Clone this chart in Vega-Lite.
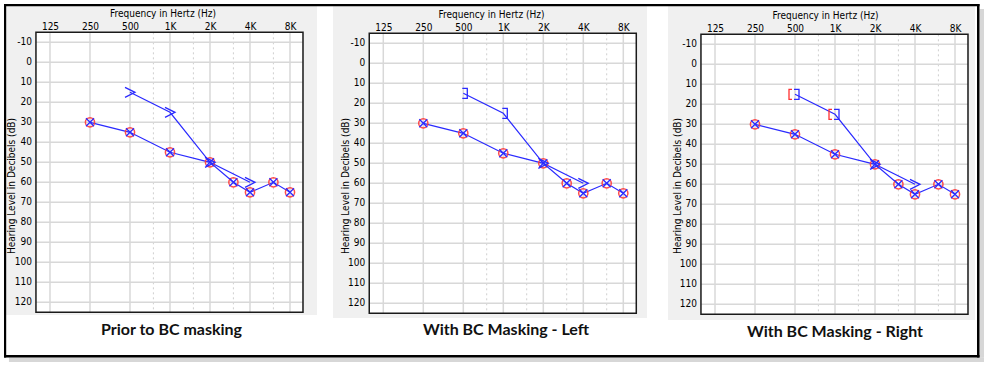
{
  "$schema": "https://vega.github.io/schema/vega-lite/v6.json",
  "padding": 0,
  "background": "white",
  "spacing": 0,
  "data": {"values": [{}]},
  "config": {"view": {"stroke": null}, "concat": {"spacing": 0},
    "axis": {"domain": false, "ticks": false, "tickSize": 0, "grid": false, "labelFont": "Liberation Sans Narrow, DejaVu Sans Condensed, Liberation Sans", "labelFontSize": 10, "labelColor": "#000", "labelFlush": false, "labelOverlap": false, "labelBound": false, "titleFont": "Liberation Sans Narrow, DejaVu Sans Condensed, Liberation Sans", "titleFontSize": 10, "titleFontWeight": "normal", "titleColor": "#000"}},
  "datasets": {
    "ac": [{"f":250,"db":30},{"f":500,"db":35},{"f":1000,"db":45},{"f":2000,"db":50},{"f":3000,"db":60},{"f":4000,"db":65},{"f":6000,"db":60},{"f":8000,"db":65}],
    "bcline": [{"f":500,"db":15},{"f":1000,"db":25},{"f":2000,"db":50},{"f":4000,"db":60}],
    "bc1": [{"f":500,"db":15,"sym":"unmasked"},{"f":1000,"db":25,"sym":"unmasked"},{"f":2000,"db":50,"sym":"unmasked"},{"f":4000,"db":60,"sym":"unmasked"}],
    "bc2": [{"f":500,"db":15,"sym":"masked L"},{"f":1000,"db":25,"sym":"masked L"},{"f":2000,"db":50,"sym":"unmasked"},{"f":4000,"db":60,"sym":"unmasked"}],
    "bc3": [{"f":500,"db":15,"sym":"masked R"},{"f":500,"db":15,"sym":"masked L"},{"f":1000,"db":25,"sym":"masked R"},{"f":1000,"db":25,"sym":"masked L"},{"f":2000,"db":50,"sym":"unmasked"},{"f":4000,"db":60,"sym":"unmasked"}],
    "gridf": [{"f":125,"kind":"solid"},{"f":250,"kind":"solid"},{"f":500,"kind":"solid"},{"f":750,"kind":"dotted"},{"f":1000,"kind":"solid"},{"f":1500,"kind":"dotted"},{"f":2000,"kind":"solid"},{"f":3000,"kind":"dotted"},{"f":4000,"kind":"solid"},{"f":6000,"kind":"dotted"},{"f":8000,"kind":"solid"}],
    "griddb": [{"db":-10},{"db":0},{"db":10},{"db":20},{"db":30},{"db":40},{"db":50},{"db":60},{"db":70},{"db":80},{"db":90},{"db":100},{"db":110},{"db":120}]
  },
  "hconcat": [
    {
      "width": 325, "height": 371,
      "layer": [
        {"mark": {"type": "rect", "fill": "#f0f0f0"},
         "encoding": {"x": {"datum": 58.3, "type": "quantitative"}, "x2": {"datum": 12773}, "y": {"datum": -29, "type": "quantitative"}, "y2": {"datum": 126.35}}},
        {"mark": {"type": "rect", "fill": "white"},
         "encoding": {"x": {"datum": 98, "type": "quantitative"}, "x2": {"datum": 10020}, "y": {"datum": -15, "type": "quantitative"}, "y2": {"datum": 125}}},
        {"data": {"name": "gridf"}, "transform": [{"filter": "datum.kind == 'solid'"}],
         "mark": {"type": "rule", "color": "#d8d8d8", "strokeWidth": 1.5},
         "encoding": {"x": {"field": "f", "type": "quantitative"}, "y": {"datum": -15, "type": "quantitative"}, "y2": {"datum": 125}}},
        {"data": {"name": "gridf"}, "transform": [{"filter": "datum.kind == 'dotted'"}],
         "mark": {"type": "rule", "color": "#cfcfcf", "strokeWidth": 1, "strokeDash": [2, 3]},
         "encoding": {"x": {"field": "f", "type": "quantitative"}, "y": {"datum": -15, "type": "quantitative"}, "y2": {"datum": 125}}},
        {"data": {"name": "griddb"},
         "mark": {"type": "rule", "color": "#d8d8d8", "strokeWidth": 1.5},
         "encoding": {"y": {"field": "db", "type": "quantitative"}, "x": {"datum": 98, "type": "quantitative"}, "x2": {"datum": 10020}}},
        {"data": {"name": "griddb"},
         "mark": {"type": "text", "align": "right", "baseline": "middle", "dx": -4, "font": "Liberation Sans Narrow, DejaVu Sans Condensed, Liberation Sans", "fontSize": 10, "color": "#000"},
         "encoding": {"y": {"field": "db", "type": "quantitative"}, "x": {"datum": 98, "type": "quantitative"}, "text": {"field": "db", "type": "nominal"}}},
        {"data": {"name": "ac"}, "mark": {"type": "line", "color": "#2a2aff", "strokeWidth": 1.2},
         "encoding": {
           "x": {"field": "f", "type": "quantitative", "scale": {"type": "log", "base": 2, "domain": [52.56, 14672], "nice": false},
                 "axis": {"orient": "top", "offset": -32, "zindex": 1, "labelOverlap": false, "values": [125,250,500,1000,2000,4000,8000], "labelExpr": "datum.value >= 1000 ? (datum.value/1000) + 'K' : datum.value", "labelPadding": 1, "title": "Frequency in Hertz (Hz)", "titlePadding": 3}},
           "y": {"field": "db", "type": "quantitative", "scale": {"domain": [-31.15, 154.35], "reverse": true, "nice": false, "zero": false},
                 "axis": {"orient": "left", "offset": -36, "zindex": 1, "labels": false, "values": [-10,0,10,20,30,40,50,60,70,80,90,100,110,120], "title": "Hearing Level in Decibels (dB)", "titleX": -20}}}},
        {"data": {"name": "bcline"}, "mark": {"type": "line", "color": "#2a2aff", "strokeWidth": 1.2},
         "encoding": {"x": {"field": "f", "type": "quantitative"}, "y": {"field": "db", "type": "quantitative"}}},
        {"data": {"name": "ac"}, "mark": {"type": "point", "shape": "circle", "filled": false, "color": "#ff3a3a", "size": 85, "strokeWidth": 1.5, "opacity": 0.9},
         "encoding": {"x": {"field": "f", "type": "quantitative"}, "y": {"field": "db", "type": "quantitative"}}},
        {"data": {"name": "ac"}, "mark": {"type": "point", "shape": "M -1 -1 L 1 1 M -1 1 L 1 -1", "filled": false, "color": "#2a2aff", "size": 64, "strokeWidth": 1.3, "opacity": 1},
         "encoding": {"x": {"field": "f", "type": "quantitative"}, "y": {"field": "db", "type": "quantitative"}}},
        {"data": {"name": "bc1"}, "mark": {"type": "point", "filled": false, "size": 100, "strokeWidth": 1.3, "opacity": 1},
         "encoding": {"x": {"field": "f", "type": "quantitative"}, "y": {"field": "db", "type": "quantitative"},
           "shape": {"field": "sym", "type": "nominal", "legend": null, "scale": {"domain": ["unmasked","masked L","masked R"], "range": ["M -1 -1 L 1 0 L -1 1", "M -0.2 -1 L 0.8 -1 L 0.8 1 L -0.2 1", "M -0.6 -1 L -1.2 -1 L -1.2 1 L -0.6 1"]}},
           "color": {"field": "sym", "type": "nominal", "legend": null, "scale": {"domain": ["unmasked","masked L","masked R"], "range": ["#2a2aff","#2a2aff","#ff3030"]}}}},
        {"mark": {"type": "rect", "fill": null, "stroke": "#1a1a1a", "strokeWidth": 1.5},
         "encoding": {"x": {"datum": 98, "type": "quantitative"}, "x2": {"datum": 10020}, "y": {"datum": -15, "type": "quantitative"}, "y2": {"datum": 125}}},
        {"mark": {"type": "text", "text": "Prior to BC masking", "font": "Lato", "fontWeight": "bold", "fontSize": 16, "color": "#111", "align": "center", "baseline": "middle"},
         "encoding": {"x": {"datum": 1026, "type": "quantitative"}, "y": {"datum": 133.85, "type": "quantitative"}}},
        {"mark": {"type": "rect", "fill": "#bdbdbd", "opacity": 0.6},
         "encoding": {"x": {"datum": 61.4, "type": "quantitative"}, "x2": {"datum": 14672}, "y": {"datum": 147.6, "type": "quantitative"}, "y2": {"datum": 149.85}}},
        {"mark": {"type": "rect", "fill": "#000"},
         "encoding": {"x": {"datum": 56.33, "type": "quantitative"}, "x2": {"datum": 14672}, "y": {"datum": -29.15, "type": "quantitative"}, "y2": {"datum": -28.05}}},
        {"mark": {"type": "rect", "fill": "#000"},
         "encoding": {"x": {"datum": 56.33, "type": "quantitative"}, "x2": {"datum": 14672}, "y": {"datum": 146.35, "type": "quantitative"}, "y2": {"datum": 147.6}}},
        {"mark": {"type": "rect", "fill": "#000"},
         "encoding": {"x": {"datum": 56.33, "type": "quantitative"}, "x2": {"datum": 58.52}, "y": {"datum": -29.15, "type": "quantitative"}, "y2": {"datum": 147.6}}}
      ]
    },
    {
      "width": 332, "height": 371,
      "layer": [
        {"mark": {"type": "rect", "fill": "#f0f0f0"},
         "encoding": {"x": {"datum": 52.28, "type": "quantitative"}, "x2": {"datum": 12063}, "y": {"datum": -29.5, "type": "quantitative"}, "y2": {"datum": 127.35}}},
        {"mark": {"type": "rect", "fill": "white"},
         "encoding": {"x": {"datum": 98, "type": "quantitative"}, "x2": {"datum": 10020}, "y": {"datum": -15, "type": "quantitative"}, "y2": {"datum": 125}}},
        {"data": {"name": "gridf"}, "transform": [{"filter": "datum.kind == 'solid'"}],
         "mark": {"type": "rule", "color": "#d8d8d8", "strokeWidth": 1.5},
         "encoding": {"x": {"field": "f", "type": "quantitative"}, "y": {"datum": -15, "type": "quantitative"}, "y2": {"datum": 125}}},
        {"data": {"name": "gridf"}, "transform": [{"filter": "datum.kind == 'dotted'"}],
         "mark": {"type": "rule", "color": "#cfcfcf", "strokeWidth": 1, "strokeDash": [2, 3]},
         "encoding": {"x": {"field": "f", "type": "quantitative"}, "y": {"datum": -15, "type": "quantitative"}, "y2": {"datum": 125}}},
        {"data": {"name": "griddb"},
         "mark": {"type": "rule", "color": "#d8d8d8", "strokeWidth": 1.5},
         "encoding": {"y": {"field": "db", "type": "quantitative"}, "x": {"datum": 98, "type": "quantitative"}, "x2": {"datum": 10020}}},
        {"data": {"name": "griddb"},
         "mark": {"type": "text", "align": "right", "baseline": "middle", "dx": -4, "font": "Liberation Sans Narrow, DejaVu Sans Condensed, Liberation Sans", "fontSize": 10, "color": "#000"},
         "encoding": {"y": {"field": "db", "type": "quantitative"}, "x": {"datum": 98, "type": "quantitative"}, "text": {"field": "db", "type": "nominal"}}},
        {"data": {"name": "ac"}, "mark": {"type": "line", "color": "#2a2aff", "strokeWidth": 1.2},
         "encoding": {
           "x": {"field": "f", "type": "quantitative", "scale": {"type": "log", "base": 2, "domain": [45.52, 14345], "nice": false},
                 "axis": {"orient": "top", "offset": -33, "zindex": 1, "labelOverlap": false, "values": [125,250,500,1000,2000,4000,8000], "labelExpr": "datum.value >= 1000 ? (datum.value/1000) + 'K' : datum.value", "labelPadding": 1, "title": "Frequency in Hertz (Hz)", "titlePadding": 3}},
           "y": {"field": "db", "type": "quantitative", "scale": {"domain": [-31.65, 153.85], "reverse": true, "nice": false, "zero": false},
                 "axis": {"orient": "left", "offset": -44, "zindex": 1, "labels": false, "values": [-10,0,10,20,30,40,50,60,70,80,90,100,110,120], "title": "Hearing Level in Decibels (dB)", "titleX": -19}}}},
        {"data": {"name": "bcline"}, "mark": {"type": "line", "color": "#2a2aff", "strokeWidth": 1.2},
         "encoding": {"x": {"field": "f", "type": "quantitative"}, "y": {"field": "db", "type": "quantitative"}}},
        {"data": {"name": "ac"}, "mark": {"type": "point", "shape": "circle", "filled": false, "color": "#ff3a3a", "size": 85, "strokeWidth": 1.5, "opacity": 0.9},
         "encoding": {"x": {"field": "f", "type": "quantitative"}, "y": {"field": "db", "type": "quantitative"}}},
        {"data": {"name": "ac"}, "mark": {"type": "point", "shape": "M -1 -1 L 1 1 M -1 1 L 1 -1", "filled": false, "color": "#2a2aff", "size": 64, "strokeWidth": 1.3, "opacity": 1},
         "encoding": {"x": {"field": "f", "type": "quantitative"}, "y": {"field": "db", "type": "quantitative"}}},
        {"data": {"name": "bc2"}, "mark": {"type": "point", "filled": false, "size": 100, "strokeWidth": 1.3, "opacity": 1},
         "encoding": {"x": {"field": "f", "type": "quantitative"}, "y": {"field": "db", "type": "quantitative"},
           "shape": {"field": "sym", "type": "nominal", "legend": null, "scale": {"domain": ["unmasked","masked L","masked R"], "range": ["M -1 -1 L 1 0 L -1 1", "M -0.2 -1 L 0.8 -1 L 0.8 1 L -0.2 1", "M -0.6 -1 L -1.2 -1 L -1.2 1 L -0.6 1"]}},
           "color": {"field": "sym", "type": "nominal", "legend": null, "scale": {"domain": ["unmasked","masked L","masked R"], "range": ["#2a2aff","#2a2aff","#ff3030"]}}}},
        {"mark": {"type": "rect", "fill": null, "stroke": "#1a1a1a", "strokeWidth": 1.5},
         "encoding": {"x": {"datum": 98, "type": "quantitative"}, "x2": {"datum": 10020}, "y": {"datum": -15, "type": "quantitative"}, "y2": {"datum": 125}}},
        {"mark": {"type": "text", "text": "With BC Masking - Left", "font": "Lato", "fontWeight": "bold", "fontSize": 16, "color": "#111", "align": "center", "baseline": "middle"},
         "encoding": {"x": {"datum": 1048, "type": "quantitative"}, "y": {"datum": 133.35, "type": "quantitative"}}},
        {"mark": {"type": "rect", "fill": "#bdbdbd", "opacity": 0.6},
         "encoding": {"x": {"datum": 45.52, "type": "quantitative"}, "x2": {"datum": 14345}, "y": {"datum": 147.1, "type": "quantitative"}, "y2": {"datum": 149.35}}},
        {"mark": {"type": "rect", "fill": "#000"},
         "encoding": {"x": {"datum": 45.52, "type": "quantitative"}, "x2": {"datum": 14345}, "y": {"datum": -29.65, "type": "quantitative"}, "y2": {"datum": -28.55}}},
        {"mark": {"type": "rect", "fill": "#000"},
         "encoding": {"x": {"datum": 45.52, "type": "quantitative"}, "x2": {"datum": 14345}, "y": {"datum": 145.85, "type": "quantitative"}, "y2": {"datum": 147.1}}}
      ]
    },
    {
      "width": 336, "height": 371,
      "layer": [
        {"mark": {"type": "rect", "fill": "#f0f0f0"},
         "encoding": {"x": {"datum": 55.36, "type": "quantitative"}, "x2": {"datum": 11314}, "y": {"datum": -30, "type": "quantitative"}, "y2": {"datum": 127.85}}},
        {"mark": {"type": "rect", "fill": "white"},
         "encoding": {"x": {"datum": 98, "type": "quantitative"}, "x2": {"datum": 10020}, "y": {"datum": -15, "type": "quantitative"}, "y2": {"datum": 125}}},
        {"data": {"name": "gridf"}, "transform": [{"filter": "datum.kind == 'solid'"}],
         "mark": {"type": "rule", "color": "#d8d8d8", "strokeWidth": 1.5},
         "encoding": {"x": {"field": "f", "type": "quantitative"}, "y": {"datum": -15, "type": "quantitative"}, "y2": {"datum": 125}}},
        {"data": {"name": "gridf"}, "transform": [{"filter": "datum.kind == 'dotted'"}],
         "mark": {"type": "rule", "color": "#cfcfcf", "strokeWidth": 1, "strokeDash": [2, 3]},
         "encoding": {"x": {"field": "f", "type": "quantitative"}, "y": {"datum": -15, "type": "quantitative"}, "y2": {"datum": 125}}},
        {"data": {"name": "griddb"},
         "mark": {"type": "rule", "color": "#d8d8d8", "strokeWidth": 1.5},
         "encoding": {"y": {"field": "db", "type": "quantitative"}, "x": {"datum": 98, "type": "quantitative"}, "x2": {"datum": 10020}}},
        {"data": {"name": "griddb"},
         "mark": {"type": "text", "align": "right", "baseline": "middle", "dx": -4, "font": "Liberation Sans Narrow, DejaVu Sans Condensed, Liberation Sans", "fontSize": 10, "color": "#000"},
         "encoding": {"y": {"field": "db", "type": "quantitative"}, "x": {"datum": 98, "type": "quantitative"}, "text": {"field": "db", "type": "nominal"}}},
        {"data": {"name": "ac"}, "mark": {"type": "line", "color": "#2a2aff", "strokeWidth": 1.2},
         "encoding": {
           "x": {"field": "f", "type": "quantitative", "scale": {"type": "log", "base": 2, "domain": [45.75, 15455], "nice": false},
                 "axis": {"orient": "top", "offset": -34, "zindex": 1, "labelOverlap": false, "values": [125,250,500,1000,2000,4000,8000], "labelExpr": "datum.value >= 1000 ? (datum.value/1000) + 'K' : datum.value", "labelPadding": 1, "title": "Frequency in Hertz (Hz)", "titlePadding": 3}},
           "y": {"field": "db", "type": "quantitative", "scale": {"domain": [-32.15, 153.35], "reverse": true, "nice": false, "zero": false},
                 "axis": {"orient": "left", "offset": -44, "zindex": 1, "labels": false, "values": [-10,0,10,20,30,40,50,60,70,80,90,100,110,120], "title": "Hearing Level in Decibels (dB)", "titleX": -19}}}},
        {"data": {"name": "bcline"}, "mark": {"type": "line", "color": "#2a2aff", "strokeWidth": 1.2},
         "encoding": {"x": {"field": "f", "type": "quantitative"}, "y": {"field": "db", "type": "quantitative"}}},
        {"data": {"name": "ac"}, "mark": {"type": "point", "shape": "circle", "filled": false, "color": "#ff3a3a", "size": 85, "strokeWidth": 1.5, "opacity": 0.9},
         "encoding": {"x": {"field": "f", "type": "quantitative"}, "y": {"field": "db", "type": "quantitative"}}},
        {"data": {"name": "ac"}, "mark": {"type": "point", "shape": "M -1 -1 L 1 1 M -1 1 L 1 -1", "filled": false, "color": "#2a2aff", "size": 64, "strokeWidth": 1.3, "opacity": 1},
         "encoding": {"x": {"field": "f", "type": "quantitative"}, "y": {"field": "db", "type": "quantitative"}}},
        {"data": {"name": "bc3"}, "mark": {"type": "point", "filled": false, "size": 100, "strokeWidth": 1.3, "opacity": 1},
         "encoding": {"x": {"field": "f", "type": "quantitative"}, "y": {"field": "db", "type": "quantitative"},
           "shape": {"field": "sym", "type": "nominal", "legend": null, "scale": {"domain": ["unmasked","masked L","masked R"], "range": ["M -1 -1 L 1 0 L -1 1", "M -0.2 -1 L 0.8 -1 L 0.8 1 L -0.2 1", "M -0.6 -1 L -1.2 -1 L -1.2 1 L -0.6 1"]}},
           "color": {"field": "sym", "type": "nominal", "legend": null, "scale": {"domain": ["unmasked","masked L","masked R"], "range": ["#2a2aff","#2a2aff","#ff3030"]}}}},
        {"mark": {"type": "rect", "fill": null, "stroke": "#1a1a1a", "strokeWidth": 1.5},
         "encoding": {"x": {"datum": 98, "type": "quantitative"}, "x2": {"datum": 10020}, "y": {"datum": -15, "type": "quantitative"}, "y2": {"datum": 125}}},
        {"mark": {"type": "text", "text": "With BC Masking - Right", "font": "Lato", "fontWeight": "bold", "fontSize": 16, "color": "#111", "align": "center", "baseline": "middle"},
         "encoding": {"x": {"datum": 1000, "type": "quantitative"}, "y": {"datum": 133.85, "type": "quantitative"}}},
        {"mark": {"type": "rect", "fill": "#bdbdbd", "opacity": 0.6},
         "encoding": {"x": {"datum": 45.75, "type": "quantitative"}, "x2": {"datum": 13223}, "y": {"datum": 146.6, "type": "quantitative"}, "y2": {"datum": 148.85}}},
        {"mark": {"type": "rect", "fill": "#bdbdbd", "opacity": 0.6},
         "encoding": {"x": {"datum": 12231, "type": "quantitative"}, "x2": {"datum": 13223}, "y": {"datum": -27.65, "type": "quantitative"}, "y2": {"datum": 146.6}}},
        {"mark": {"type": "rect", "fill": "#000"},
         "encoding": {"x": {"datum": 45.75, "type": "quantitative"}, "x2": {"datum": 12231}, "y": {"datum": -30.15, "type": "quantitative"}, "y2": {"datum": -29.05}}},
        {"mark": {"type": "rect", "fill": "#000"},
         "encoding": {"x": {"datum": 45.75, "type": "quantitative"}, "x2": {"datum": 12231}, "y": {"datum": 145.35, "type": "quantitative"}, "y2": {"datum": 146.6}}},
        {"mark": {"type": "rect", "fill": "#000"},
         "encoding": {"x": {"datum": 11713, "type": "quantitative"}, "x2": {"datum": 12231}, "y": {"datum": -30.15, "type": "quantitative"}, "y2": {"datum": 146.6}}}
      ]
    }
  ]
}
